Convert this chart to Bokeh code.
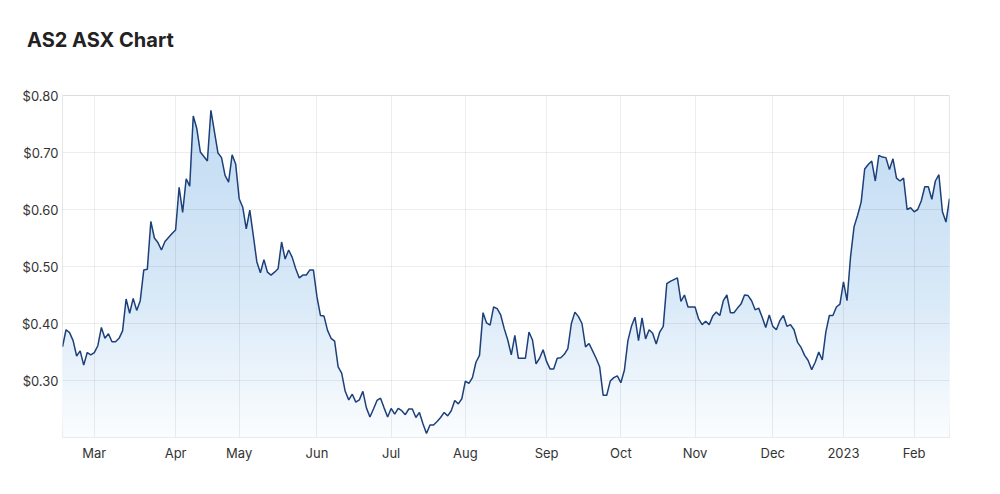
import numpy as np
from bokeh.plotting import figure
from bokeh.models import FixedTicker, NumeralTickFormatter, Range1d, Div
from bokeh.layouts import column
from bokeh.embed import file_html
from bokeh.resources import INLINE

# Daily closing prices (trading days, 16 Feb 2022 - 15 Feb 2023)
prices = [
    0.359, 0.389, 0.384, 0.370, 0.343, 0.352, 0.327, 0.349, 0.345, 0.349,
    0.361, 0.393, 0.374, 0.382, 0.368, 0.368, 0.374, 0.387, 0.443, 0.418,
    0.444, 0.423, 0.440, 0.494, 0.495, 0.579, 0.550, 0.542, 0.529, 0.544,
    0.551, 0.558, 0.564, 0.639, 0.595, 0.654, 0.641, 0.764, 0.742, 0.701,
    0.693, 0.685, 0.774, 0.736, 0.699, 0.691, 0.660, 0.648, 0.696, 0.680,
    0.619, 0.604, 0.566, 0.599, 0.554, 0.508, 0.489, 0.512, 0.490, 0.485,
    0.490, 0.496, 0.543, 0.513, 0.529, 0.516, 0.496, 0.480, 0.485, 0.485,
    0.494, 0.494, 0.447, 0.414, 0.413, 0.388, 0.374, 0.369, 0.324, 0.313,
    0.281, 0.266, 0.276, 0.262, 0.266, 0.281, 0.252, 0.236, 0.250, 0.265,
    0.269, 0.252, 0.236, 0.251, 0.241, 0.251, 0.247, 0.240, 0.250, 0.250,
    0.235, 0.244, 0.224, 0.207, 0.222, 0.222, 0.228, 0.235, 0.244, 0.238,
    0.247, 0.265, 0.259, 0.268, 0.299, 0.295, 0.305, 0.332, 0.344, 0.419,
    0.401, 0.397, 0.429, 0.426, 0.415, 0.391, 0.371, 0.345, 0.379, 0.339,
    0.339, 0.339, 0.385, 0.371, 0.329, 0.339, 0.354, 0.333, 0.320, 0.320,
    0.339, 0.340, 0.346, 0.356, 0.400, 0.420, 0.412, 0.400, 0.359, 0.365,
    0.352, 0.339, 0.324, 0.274, 0.274, 0.299, 0.305, 0.308, 0.296, 0.318,
    0.370, 0.395, 0.411, 0.370, 0.410, 0.373, 0.389, 0.383, 0.364, 0.385,
    0.395, 0.470, 0.474, 0.477, 0.480, 0.439, 0.450, 0.429, 0.429, 0.429,
    0.408, 0.398, 0.404, 0.398, 0.413, 0.420, 0.414, 0.440, 0.450, 0.419,
    0.419, 0.427, 0.434, 0.450, 0.449, 0.440, 0.424, 0.427, 0.411, 0.393,
    0.415, 0.395, 0.389, 0.405, 0.414, 0.395, 0.398, 0.389, 0.367, 0.358,
    0.344, 0.335, 0.319, 0.332, 0.350, 0.336, 0.385, 0.414, 0.414, 0.429,
    0.434, 0.473, 0.440, 0.517, 0.570, 0.590, 0.613, 0.671, 0.679, 0.685,
    0.650, 0.695, 0.692, 0.691, 0.670, 0.689, 0.655, 0.650, 0.655, 0.600,
    0.603, 0.596, 0.600, 0.615, 0.640, 0.640, 0.618, 0.650, 0.661, 0.596,
    0.578, 0.619,
]

# Month label positions (trading-day index of first trading day of month)
month_tick_index = [9, 32, 50, 72, 93, 114, 137, 158, 179, 201, 221, 241]
month_tick_labels = ["Mar", "Apr", "May", "Jun", "Jul", "Aug", "Sep", "Oct",
                     "Nov", "Dec", "2023", "Feb"]
price_ticks = [0.30, 0.40, 0.50, 0.60, 0.70, 0.80]
y_min, y_max = 0.20, 0.80
chart_title = "AS2 ASX Chart"

x = np.arange(len(prices))
y = np.array(prices)

header = Div(text=chart_title, width=980, height=50,
             styles={"font-family": "Inter", "font-size": "20px",
                     "font-weight": "bold", "color": "#222222",
                     "padding-left": "22px", "padding-top": "23px",
                     "line-height": "24px", "box-sizing": "border-box"})

p = figure(width=992, height=426, output_backend="svg", toolbar_location=None,
           x_range=Range1d(0, len(prices) - 1), y_range=Range1d(y_min, y_max),
           min_border_left=62, min_border_right=43, min_border_top=35,
           min_border_bottom=49)

p.background_fill_color = "white"
p.border_fill_color = "white"
p.outline_line_color = "#e6e6e6"
p.outline_line_width = 1

# vertical gradient fill: nested opaque layers, colour blended from white to blue
base_rgb = np.array([61, 143, 217])
grad_y = [0.20, 0.45, 0.75, 0.80]
grad_f = [0.02, 0.20, 0.31, 0.32]
thresholds = np.arange(y_min, y_max, 0.008)
for t in thresholds:
    f = np.interp(t + 0.004, grad_y, grad_f)
    rgb = np.round(255 - f * (255 - base_rgb)).astype(int)
    col = "#%02x%02x%02x" % tuple(rgb)
    p.varea(x=x, y1=np.minimum(y, t), y2=y, fill_color=col, fill_alpha=1.0)

# grid lines drawn over the fill, under the price line
p.grid.visible = False
p.vspan(x=month_tick_index, line_color="black", line_alpha=0.07, line_width=1)
p.hspan(y=price_ticks, line_color="black", line_alpha=0.07, line_width=1)

p.line(x, y, line_color="#1e4079", line_width=1.5)

p.xaxis.ticker = FixedTicker(ticks=month_tick_index)
p.xaxis.major_label_overrides = {i: l for i, l in zip(month_tick_index, month_tick_labels)}
p.yaxis.ticker = FixedTicker(ticks=price_ticks)
p.yaxis.formatter = NumeralTickFormatter(format="$0.00")

for ax in (p.xaxis, p.yaxis):
    ax.axis_line_color = None
    ax.major_tick_line_color = None
    ax.minor_tick_line_color = None
    ax.major_tick_out = 0
    ax.major_tick_in = 0
    ax.major_label_text_font = "Inter"
    ax.major_label_text_font_size = "13px"
    ax.major_label_text_color = "#333333"
p.xaxis.major_label_standoff = 7
p.yaxis.major_label_standoff = 4

layout = column(header, p, spacing=0)
open("out.html", "w").write(file_html(layout, INLINE))
